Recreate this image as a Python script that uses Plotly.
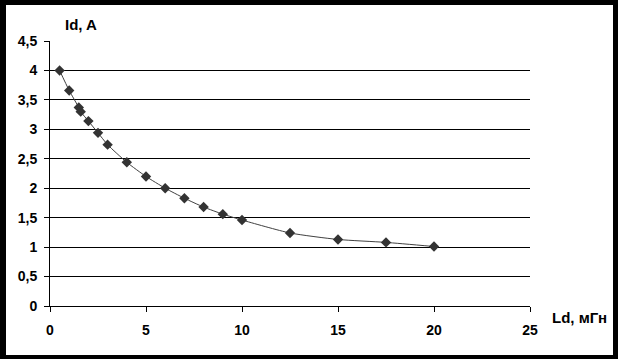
import plotly.graph_objects as go

# Data
ld_mh = [0.5, 1, 1.5, 1.6, 2, 2.5, 3, 4, 5, 6, 7, 8, 9, 10, 12.5, 15, 17.5, 20]
id_a = [4.0, 3.66, 3.37, 3.30, 3.14, 2.94, 2.74, 2.44, 2.20, 2.00, 1.83, 1.68, 1.56, 1.46, 1.24, 1.13, 1.08, 1.01]

y_ticks = [0, 0.5, 1, 1.5, 2, 2.5, 3, 3.5, 4, 4.5]
y_ticktext = ["0", "0,5", "1", "1,5", "2", "2,5", "3", "3,5", "4", "4,5"]
x_ticks = [0, 5, 10, 15, 20, 25]

W, H = 618, 359
L, R, T, B = 50, 88, 41, 53

FONT = "Liberation Sans, Arial, sans-serif"

fig = go.Figure()
fig.add_trace(go.Scatter(
    x=ld_mh, y=id_a, mode="lines+markers",
    line=dict(color="#404040", width=1, shape="spline", smoothing=0.6),
    marker=dict(symbol="diamond", size=8, color="#333333"),
    showlegend=False, cliponaxis=False,
))

pw = W - L - R
ph = H - T - B

def px_x(p):
    return (p - L) / pw

def px_y(p):
    return (H - B - p) / ph

# black frame around the picture
frame = [(0, 0, 6, H), (W - 5, 0, W, H), (0, 0, W, 5), (0, H - 4, W, H)]
shapes = []
for x0, y0, x1, y1 in frame:
    shapes.append(dict(type="rect", xref="paper", yref="paper",
                       x0=px_x(x0), x1=px_x(x1), y0=px_y(y1), y1=px_y(y0),
                       fillcolor="black", line=dict(width=0), layer="above"))

fig.update_layout(
    width=W, height=H,
    margin=dict(l=L, r=R, t=T, b=B),
    paper_bgcolor="white", plot_bgcolor="white",
    font=dict(family=FONT, color="black"),
    shapes=shapes,
    xaxis=dict(range=[0, 25], tickvals=x_ticks, showgrid=False, zeroline=False,
               showline=True, linecolor="black", linewidth=1,
               ticks="outside", ticklen=5, tickcolor="black", tickwidth=1,
               ticklabelstandoff=6,
               tickfont=dict(family=FONT, size=14, weight="bold", color="black")),
    yaxis=dict(range=[0, 4.5], tickvals=y_ticks, ticktext=y_ticktext,
               showgrid=True, gridcolor="black", gridwidth=1, zeroline=False,
               showline=True, linecolor="black", linewidth=1,
               ticks="outside", ticklen=5, tickcolor="black", tickwidth=1,
               ticklabelstandoff=4,
               tickfont=dict(family=FONT, size=14, weight="bold", color="black")),
    annotations=[
        dict(text="Id, A", xref="paper", yref="paper", x=px_x(63), y=px_y(24),
             xanchor="left", yanchor="middle", showarrow=False,
             font=dict(family=FONT, size=15, weight="bold", color="black")),
        dict(text="Ld, мГн", xref="paper", yref="paper", x=px_x(550), y=px_y(317),
             xanchor="left", yanchor="middle", showarrow=False,
             font=dict(family=FONT, size=15, weight="bold", color="black")),
    ],
)

fig.write_html("out.html")
